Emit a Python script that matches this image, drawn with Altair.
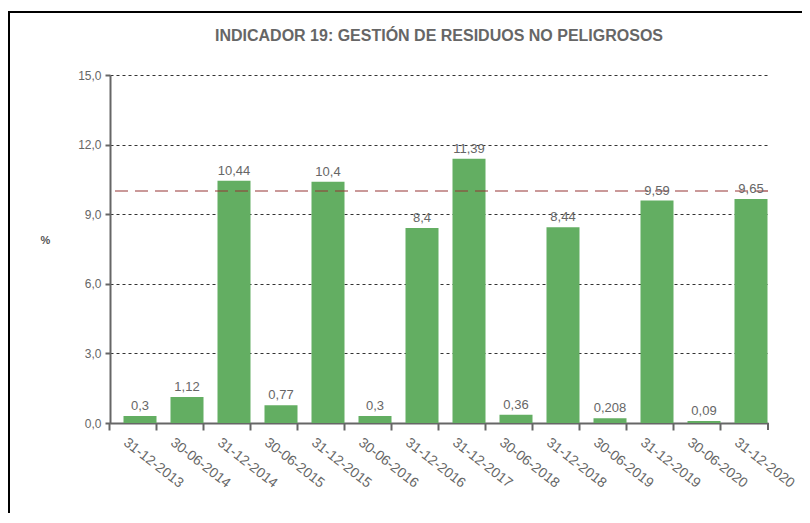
import altair as alt
import pandas as pd

fechas = ["31-12-2013", "30-06-2014", "31-12-2014", "30-06-2015", "31-12-2015",
          "30-06-2016", "31-12-2016", "30-06-2017", "31-12-2017", "30-06-2018",
          "31-12-2018", "30-06-2019", "31-12-2019", "30-06-2020", "31-12-2020"]
valores = [0.3, 1.12, 10.44, 0.77, 10.4, 0.3, 8.4, None, 11.39, 0.36, 8.44, 0.208, 9.59, 0.09, 9.65]
objetivo = [10]
y_ticks = [0, 3, 6, 9, 12, 15]

df = pd.DataFrame({"fecha": fechas, "valor": valores})
df_obj = pd.DataFrame({"obj": objetivo})

W, H = 658, 348
GRAY = "#666666"

x_enc = alt.X("fecha:N", sort=fechas, title=None,
              scale=alt.Scale(paddingInner=0.25, paddingOuter=0.125),
              axis=alt.Axis(labelAngle=38, labelAlign="left", labelBaseline="top",
                            bandPosition=-0.1667, labelOffset=-4, labelPadding=5,
                            labelFontSize=14, labelColor=GRAY, labelFont="Liberation Sans",
                            tickColor=GRAY, tickSize=7, tickWidth=2,
                            domainColor=GRAY, domainWidth=2, grid=False))

y_enc = alt.Y("valor:Q", title="%",
              scale=alt.Scale(domain=[0, 15], nice=False),
              axis=alt.Axis(values=y_ticks, format=".1f",
                            labelExpr="replace(datum.label, '.', ',')",
                            labelFontSize=12, labelColor=GRAY, labelFont="Liberation Sans",
                            labelPadding=4, tickSize=5, tickColor=GRAY, tickWidth=2,
                            domainColor=GRAY, domainWidth=2,
                            grid=True, gridColor="#333333", gridDash=[3, 3], gridWidth=1,
                            titleAngle=0, titleX=-65, titleY=165, titleAlign="center",
                            titleBaseline="middle", titleFontSize=11, titleColor="#555555",
                            titleFont="Liberation Sans", titleFontWeight="bold"))

base = alt.Chart(df).transform_filter("isValid(datum.valor)").transform_calculate(
    etiqueta="replace(toString(datum.valor), '.', ',')")

bars = base.mark_bar(color="#63ae62", width=33, xOffset=6.5).encode(x=x_enc, y=y_enc)

labels = base.mark_text(dy=-3, xOffset=6.5, baseline="bottom", fontSize=13,
                        color="#666666", font="Liberation Sans").encode(
    x=alt.X("fecha:N", sort=fechas), y="valor:Q", text="etiqueta:N")

rule = alt.Chart(df_obj).mark_rule(color="#953535", strokeDash=[13, 7], strokeWidth=1.2).encode(
    y=alt.Y("obj:Q"))

last_tick = alt.Chart(df_obj).mark_rule(color=GRAY, strokeWidth=2).encode(
    x=alt.value(W), y=alt.value(H), y2=alt.value(H + 7))

frame = alt.Chart(df_obj).mark_rect(fill=None, stroke="black", strokeWidth=2, clip=False).encode(
    x=alt.value(-101), x2=alt.value(W + 200), y=alt.value(-63), y2=alt.value(H + 200))

chart = alt.layer(frame, bars, rule, labels, last_tick).properties(
    width=W, height=H,
    autosize=alt.AutoSizeParams(type="none"),
    padding={"left": 102, "top": 67, "right": 34, "bottom": 90},
    title=alt.TitleParams("INDICADOR 19: GESTIÓN DE RESIDUOS NO PELIGROSOS",
                          font="Liberation Sans", fontSize=16, fontWeight="bold",
                          color="#666666", anchor="middle", offset=-33),
).configure_view(stroke=None)

chart.save("out.html", embed_options={"renderer": "svg", "actions": False})
